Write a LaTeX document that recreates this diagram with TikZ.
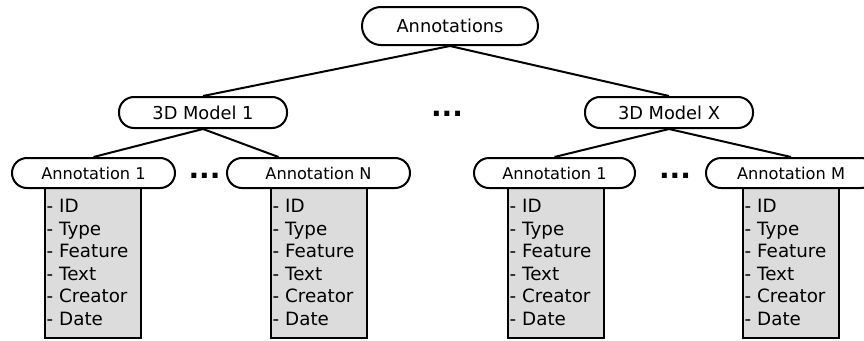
\documentclass[tikz,border=0pt]{standalone}
\usepackage{fontspec}
\setmainfont{DejaVu Sans}
\usepackage{tikz}
\definecolor{fieldgray}{RGB}{220,220,220}
\newcommand{\fieldlist}{- ID\\- Type\\- Feature\\- Text\\- Creator\\- Date}

\begin{document}
\begin{tikzpicture}[x=1pt,y=-1pt,line width=2pt,
  level/.style={draw,fill=white,rounded corners=15pt,inner sep=0pt,minimum height=31pt,font=\fontsize{17.8}{21}\selectfont},
  ann/.style={level,minimum height=30pt,font=\fontsize{16.2}{19}\selectfont},
  fields/.style={draw,fill=fieldgray,anchor=north,text width=92pt,inner xsep=2pt,inner ysep=0pt,minimum height=151pt,align=left,font=\fontsize{18.3}{22.6}\selectfont},
  gap/.style={anchor=base,inner sep=0pt,font=\fontsize{28}{30}\selectfont\bfseries}]
\useasboundingbox (0,0) rectangle (864,340);
\node[fields] (fieldsA1) at (92.5,186) {\fieldlist};
\node[fields] (fieldsAN) at (318.5,186) {\fieldlist};
\node[fields] (fieldsB1) at (555.5,186) {\fieldlist};
\node[fields] (fieldsBM) at (790.5,186) {\fieldlist};
\node[level,minimum width=176pt,minimum height=38pt,rounded corners=19pt] (root) at (450,26) {Annotations};
\node[level,minimum width=168pt] (model1) at (203,112.5) {3D Model 1};
\node[level,minimum width=168pt] (modelX) at (669,112.5) {3D Model X};
\node[gap] (gapModels) at (447,116) {...};
\node[ann,minimum width=163pt] (annA1) at (93.5,173) {Annotation 1};
\node[ann,minimum width=183pt] (annAN) at (318.5,173) {Annotation N};
\node[ann,minimum width=161pt] (annB1) at (554.5,173) {Annotation 1};
\node[ann,minimum width=170pt] (annBM) at (791,173) {Annotation M};
\node[gap] (gapA) at (204.5,178) {...};
\node[gap] (gapB) at (675,178) {...};
\draw (root.south) -- (model1.north);
\draw (root.south) -- (modelX.north);
\draw (model1.south) -- (annA1.north);
\draw (model1.south) -- ([xshift=-40pt]annAN.north);
\draw (modelX.south) -- (annB1.north);
\draw (modelX.south) -- (annBM.north);
\end{tikzpicture}
\end{document}
